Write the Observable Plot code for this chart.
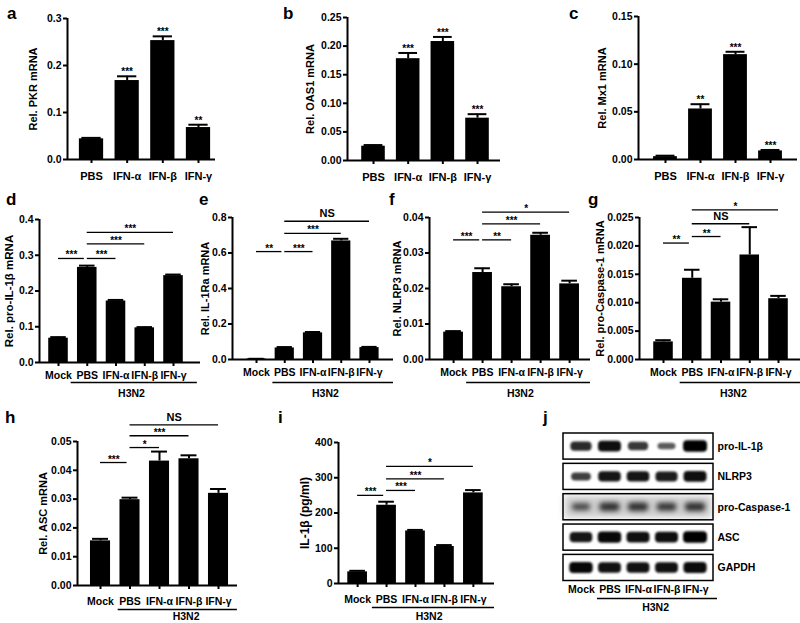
<!DOCTYPE html>
<html><head><meta charset="utf-8">
<script src="https://cdn.jsdelivr.net/npm/d3@7"></script>
<script src="https://cdn.jsdelivr.net/npm/@observablehq/plot@0.6"></script>
<style>
body{margin:0;background:#fff;}
#fig{position:relative;width:800px;height:623px;overflow:hidden;background:#fff;font-family:"Liberation Sans",Arial,Helvetica,sans-serif;}
.letter{position:absolute;font-weight:bold;font-size:17px;line-height:17px;color:#000;}
</style></head><body><div id="fig"></div>
<script>
// ---------- data ----------
const catsTop = ["PBS","IFN-α","IFN-β","IFN-γ"];
const cats5 = ["Mock","PBS","IFN-α","IFN-β","IFN-γ"];
const groupLabel = "H3N2";

// a PKR
const pkrMean = [0.044, 0.168, 0.253, 0.068];
const pkrErr  = [0.046, 0.177, 0.262, 0.074];
const pkrStars = ["", "***", "***", "**"];
const pkrTicks = [0, 0.1, 0.2, 0.3];
// b OAS1
const oasMean = [0.025, 0.178, 0.208, 0.074];
const oasErr  = [0.027, 0.188, 0.216, 0.081];
const oasStars = ["", "***", "***", "***"];
const oasTicks = [0, 0.05, 0.10, 0.15, 0.20, 0.25];
// c Mx1
const mxMean = [0.003, 0.053, 0.110, 0.009];
const mxErr  = [0.004, 0.058, 0.113, 0.010];
const mxStars = ["", "**", "***", "***"];
const mxTicks = [0, 0.05, 0.10, 0.15];
// d pro-IL-1β
const il1bMean = [0.068, 0.266, 0.172, 0.097, 0.243];
const il1bErr  = [0.071, 0.271, 0.175, 0.099, 0.246];
const il1bTicks = [0, 0.1, 0.2, 0.3, 0.4];
const il1bBrackets = [
  {from: 0, to: 0.9, y: 0.291, label: "***"},
  {from: 1, to: 2, y: 0.291, label: "***"},
  {from: 1, to: 3, y: 0.332, label: "***"},
  {from: 1, to: 4, y: 0.364, label: "***"}];
// e IL-1Ra
const il1raMean = [0.003, 0.065, 0.150, 0.668, 0.067];
const il1raErr  = [0.004, 0.070, 0.155, 0.680, 0.071];
const il1raTicks = [0, 0.2, 0.4, 0.6, 0.8];
const il1raBrackets = [
  {from: 0, to: 0.9, y: 0.608, label: "**"},
  {from: 1, to: 2, y: 0.608, label: "***"},
  {from: 1, to: 3, y: 0.711, label: "***"},
  {from: 1, to: 4, y: 0.779, label: "NS"}];
// f NLRP3
const nlrpMean = [0.0077, 0.0245, 0.0205, 0.0350, 0.0213];
const nlrpErr  = [0.0080, 0.0257, 0.0212, 0.0357, 0.0222];
const nlrpTicks = [0, 0.01, 0.02, 0.03, 0.04];
const nlrpBrackets = [
  {from: 0, to: 0.9, y: 0.0337, label: "***"},
  {from: 1, to: 2, y: 0.0337, label: "**"},
  {from: 1, to: 3, y: 0.0382, label: "***"},
  {from: 1, to: 4, y: 0.0415, label: "*"}];
// g pro-Caspase-1
const caspMean = [0.0031, 0.0143, 0.0101, 0.0184, 0.0107];
const caspErr  = [0.0034, 0.0158, 0.0106, 0.0233, 0.0112];
const caspTicks = [0, 0.005, 0.010, 0.015, 0.020, 0.025];
const caspBrackets = [
  {from: 0, to: 0.9, y: 0.0205, label: "**"},
  {from: 1, to: 2, y: 0.02165, label: "**"},
  {from: 1, to: 3, y: 0.0239, label: "NS"},
  {from: 1, to: 4, y: 0.02635, label: "*"}];
// h ASC
const ascMean = [0.0155, 0.0298, 0.0432, 0.0440, 0.0320];
const ascErr  = [0.0162, 0.0305, 0.0465, 0.0452, 0.0335];
const ascTicks = [0, 0.01, 0.02, 0.03, 0.04, 0.05];
const ascBrackets = [
  {from: 0, to: 0.9, y: 0.0427, label: "***"},
  {from: 1, to: 2, y: 0.0479, label: "*"},
  {from: 1, to: 3, y: 0.0520, label: "***"},
  {from: 1, to: 4, y: 0.0558, label: "NS"}];
// i IL-1β protein
const elisaMean = [33, 222, 149, 105, 257];
const elisaErr  = [36, 232, 152, 109, 265];
const elisaTicks = [0, 100, 200, 300, 400];
const elisaBrackets = [
  {from: 0, to: 0.9, y: 250, label: "***"},
  {from: 1, to: 2, y: 264, label: "***"},
  {from: 1, to: 3, y: 297, label: "***"},
  {from: 1, to: 4, y: 332, label: "*"}];
// j western blot (relative band density)
const blotRows = ["pro-IL-1β", "NLRP3", "pro-Caspase-1", "ASC", "GAPDH"];
const bandIL1b  = [0.70, 0.90, 0.60, 0.35, 1.00];
const bandNLRP3 = [0.55, 0.85, 0.85, 0.80, 0.90];
const bandCasp1 = [0.40, 0.60, 0.60, 0.55, 0.60];
const bandASC   = [0.85, 0.95, 0.90, 0.90, 1.00];
const bandGAPDH = [0.95, 0.88, 0.88, 0.88, 0.92];

// ---------- drawing ----------
const FONT = '"Liberation Sans", Arial, Helvetica, sans-serif';
const fig = document.getElementById("fig");
function place(el, left, top) {
  el.style.position = "absolute"; el.style.left = left + "px"; el.style.top = top + "px";
  fig.appendChild(el);
}
function letter(t, left, top) {
  const d = document.createElement("div"); d.className = "letter"; d.textContent = t;
  d.style.left = left + "px"; d.style.top = top + "px"; fig.appendChild(d);
}
const baseStyle = {fontFamily: FONT, fontWeight: "bold", fontSize: "10.5px", color: "black", background: "transparent", overflow: "visible"};

function barPanel(p) {
  const n = p.cats.length;
  const rows = p.cats.map((c, i) => ({i, mean: p.mean[i], err: p.err[i], star: p.stars ? p.stars[i] : ""}));
  const hw = 0.34, cap = 0.27;
  const marks = [
    Plot.rectY(rows, {x1: d => d.i - hw, x2: d => d.i + hw, y1: () => 0, y2: "mean", fill: "black"}),
    Plot.ruleX(rows, {x: "i", y1: "mean", y2: "err", stroke: "black", strokeWidth: 2}),
    Plot.ruleY(rows, {y: "err", x1: d => d.i - cap, x2: d => d.i + cap, stroke: "black", strokeWidth: 2}),
    Plot.ruleX([p.xDomain[0]], {stroke: "black", strokeWidth: 2}),
    Plot.ruleY([0], {stroke: "black", strokeWidth: 2}),
    Plot.axisY({ticks: p.ticks, tickFormat: d3.format(p.fmt), tickSize: 4, tickPadding: 2, strokeWidth: 2, fontSize: p.yTickSize, label: null}),
    Plot.axisX({ticks: d3.range(n), tickFormat: i => p.cats[i], tickSize: 4, tickPadding: p.xPad, strokeWidth: 2, fontSize: p.xTickSize, label: null}),
    Plot.text([p.title], {frameAnchor: "left", textAnchor: "middle", lineAnchor: "middle", dx: -p.titleOff, rotate: -90, fontSize: p.titleSize, text: d => d})
  ];
  if (p.stars) marks.push(Plot.text(rows, {x: "i", y: "err", text: "star", lineAnchor: "bottom", dy: -1, fontSize: 10}));
  if (p.brackets) {
    marks.push(Plot.ruleY(p.brackets, {y: "y", x1: "from", x2: "to", stroke: "black", strokeWidth: 1.3}));
    marks.push(Plot.text(p.brackets.filter(b => b.label !== "NS"), {x: d => (d.from + d.to) / 2, y: "y", text: "label", lineAnchor: "bottom", dy: 0, fontSize: 10}));
    marks.push(Plot.text(p.brackets.filter(b => b.label === "NS"), {x: d => (d.from + d.to) / 2, y: "y", text: "label", lineAnchor: "bottom", dy: -4, fontSize: 11}));
  }
  if (p.group) {
    marks.push(Plot.ruleY([0], {x1: () => 1 - p.ulL, x2: () => n - 1 + p.ulR, dy: p.ulDy, stroke: "black", strokeWidth: 1.3}));
    marks.push(Plot.text([p.group], {x: () => p.gX, y: () => 0, dy: p.gDy, text: d => d, fontSize: 10.5}));
  }
  const svg = Plot.plot({
    width: p.w, height: p.h,
    marginLeft: p.mL, marginRight: p.mR, marginTop: p.mT, marginBottom: p.mB,
    x: {domain: p.xDomain}, y: {domain: [0, p.ticks[p.ticks.length - 1]]},
    style: baseStyle, marks
  });
  place(svg, p.left, p.top);
}

// top row
barPanel({cats: catsTop, mean: pkrMean, err: pkrErr, stars: pkrStars, ticks: pkrTicks, fmt: ".1f",
  title: "Rel. PKR mRNA", titleOff: 34, titleSize: 11, yTickSize: 10.5, xTickSize: 11, xPad: 8.5,
  left: 0, top: 0, w: 225, h: 195, mL: 67, mR: 10, mT: 18, mB: 36, xDomain: [-0.673, 3.477]});
barPanel({cats: catsTop, mean: oasMean, err: oasErr, stars: oasStars, ticks: oasTicks, fmt: ".2f",
  title: "Rel. OAS1 mRNA", titleOff: 37, titleSize: 11, yTickSize: 10.5, xTickSize: 11, xPad: 8.5,
  left: 260, top: 0, w: 250, h: 195, mL: 87, mR: 10, mT: 17, mB: 35, xDomain: [-0.75, 3.663]});
barPanel({cats: catsTop, mean: mxMean, err: mxErr, stars: mxStars, ticks: mxTicks, fmt: ".2f",
  title: "Rel. Mx1 mRNA", titleOff: 36, titleSize: 11, yTickSize: 10.5, xTickSize: 11, xPad: 8.5,
  left: 560, top: 0, w: 240, h: 195, mL: 78, mR: 3, mT: 16, mB: 36, xDomain: [-0.771, 3.771]});
// middle row
barPanel({cats: cats5, mean: il1bMean, err: il1bErr, brackets: il1bBrackets, ticks: il1bTicks, fmt: ".1f",
  title: "Rel. pro-IL-1β mRNA", titleOff: 30, titleSize: 11.5, yTickSize: 10.5, xTickSize: 10.5, xPad: 5.5,
  group: groupLabel, ulL: 0.56, ulR: 0.83, ulDy: 20, gDy: 31, gX: 2.54,
  left: 0, top: 195, w: 205, h: 210, mL: 39, mR: 5, mT: 24, mB: 43, xDomain: [-0.661, 4.939]});
barPanel({cats: cats5, mean: il1raMean, err: il1raErr, brackets: il1raBrackets, ticks: il1raTicks, fmt: ".1f",
  title: "Rel. IL-1Ra mRNA", titleOff: 27, titleSize: 11, yTickSize: 10.5, xTickSize: 10.5, xPad: 5.5,
  group: groupLabel, ulL: 0.42, ulR: 0.85, ulDy: 23, gDy: 34, gX: 2.44,
  left: 200, top: 195, w: 195, h: 210, mL: 32, mR: 2, mT: 22, mB: 46, xDomain: [-0.85, 4.85]});
barPanel({cats: cats5, mean: nlrpMean, err: nlrpErr, brackets: nlrpBrackets, ticks: nlrpTicks, fmt: ".2f",
  title: "Rel. NLRP3 mRNA", titleOff: 32, titleSize: 11, yTickSize: 10.5, xTickSize: 10.5, xPad: 5.5,
  group: groupLabel, ulL: 0.55, ulR: 0.72, ulDy: 23, gDy: 34, gX: 2.3,
  left: 390, top: 195, w: 200, h: 210, mL: 39, mR: 0, mT: 22, mB: 46, xDomain: [-0.83, 4.72]});
barPanel({cats: cats5, mean: caspMean, err: caspErr, brackets: caspBrackets, ticks: caspTicks, fmt: ".3f",
  title: "Rel. pro-Caspase-1 mRNA", titleOff: 39, titleSize: 11, yTickSize: 10.5, xTickSize: 10.5, xPad: 5.5,
  group: groupLabel, ulL: 0.42, ulR: 0.8, ulDy: 23, gDy: 34, gX: 2.43,
  left: 580, top: 195, w: 220, h: 210, mL: 59, mR: 0, mT: 22, mB: 46, xDomain: [-0.835, 4.765]});
// bottom row
barPanel({cats: cats5, mean: ascMean, err: ascErr, brackets: ascBrackets, ticks: ascTicks, fmt: ".2f",
  title: "Rel. ASC mRNA", titleOff: 34, titleSize: 11, yTickSize: 10.5, xTickSize: 10.5, xPad: 8,
  group: groupLabel, ulL: 0.4, ulR: 0.64, ulDy: 24, gDy: 31, gX: 2.9,
  left: 0, top: 405, w: 250, h: 218, mL: 77, mR: 13, mT: 36, mB: 38, xDomain: [-0.78, 4.644]});
barPanel({cats: cats5, mean: elisaMean, err: elisaErr, brackets: elisaBrackets, ticks: elisaTicks, fmt: "d",
  title: "IL-1β (pg/ml)", titleOff: 33, titleSize: 12, yTickSize: 10.5, xTickSize: 10.5, xPad: 8,
  group: groupLabel, ulL: 0.49, ulR: 0.73, ulDy: 24, gDy: 33, gX: 2.47,
  left: 270, top: 405, w: 250, h: 218, mL: 68, mR: 26, mT: 37, mB: 40, xDomain: [-0.661, 4.73]});

// j western blot
(function () {
  const bandSets = [bandIL1b, bandNLRP3, bandCasp1, bandASC, bandGAPDH];
  const xDom = [-0.63, 4.63], yDom = [-0.43, 4.43], half = 0.43;
  const rowIdx = d3.range(blotRows.length);
  const laneIdx = d3.range(cats5.length);
  const marks = [
    Plot.rect(rowIdx, {x1: () => xDom[0], x2: () => xDom[1], y1: r => r - half, y2: r => r + half, fill: "white"}),
    Plot.rect([2], {x1: () => xDom[0] + 0.05, x2: () => xDom[1] - 0.05, y1: r => r - 0.36, y2: r => r + 0.36, fill: "#707070", fillOpacity: 0.35, imageFilter: "blur(3px)"})
  ];
  bandSets.forEach((arr, r) => {
    const data = arr.map((v, l) => ({r, l, v}));
    marks.push(Plot.rect(data, {
      x1: d => d.l - (0.26 + 0.16 * d.v), x2: d => d.l + (0.26 + 0.16 * d.v),
      y1: d => d.r - (0.06 + 0.13 * d.v), y2: d => d.r + (0.06 + 0.13 * d.v),
      fill: "black", fillOpacity: d => 0.45 + 0.55 * d.v, rx: 4,
      imageFilter: r === 2 ? "blur(2.4px)" : "blur(1.1px)"
    }));
  });
  marks.push(
    Plot.rect(rowIdx, {x1: () => xDom[0], x2: () => xDom[1], y1: r => r - half, y2: r => r + half, fill: "none", stroke: "black", strokeWidth: 1.5}),
    Plot.text(rowIdx, {x: () => xDom[1], y: r => r, text: r => blotRows[r], textAnchor: "start", dx: 4, fontSize: 10.5}),
    Plot.text(laneIdx, {x: i => i, frameAnchor: "bottom", dy: 11.5, text: i => cats5[i], fontSize: 10.5}),
    Plot.ruleY([yDom[1]], {x1: () => 0.56, x2: () => 4.77, dy: 17.5, stroke: "black", strokeWidth: 1.3}),
    Plot.text([groupLabel], {x: () => 2.6, y: () => yDom[1], dy: 26.5, text: d => d, fontSize: 10.5})
  );
  const svg = Plot.plot({
    width: 280, height: 218, marginLeft: 43, marginRight: 87, marginTop: 28, marginBottom: 42.5,
    x: {domain: xDom, axis: null}, y: {domain: yDom, reverse: true, axis: null},
    style: baseStyle, marks
  });
  place(svg, 520, 405);
})();

// panel letters
letter("a", 7, 5); letter("b", 283, 5); letter("c", 569, 5);
letter("d", 6, 191); letter("e", 199, 191); letter("f", 389, 191); letter("g", 588, 191);
letter("h", 5, 409); letter("i", 278, 409); letter("j", 543, 409);
</script></body></html>
